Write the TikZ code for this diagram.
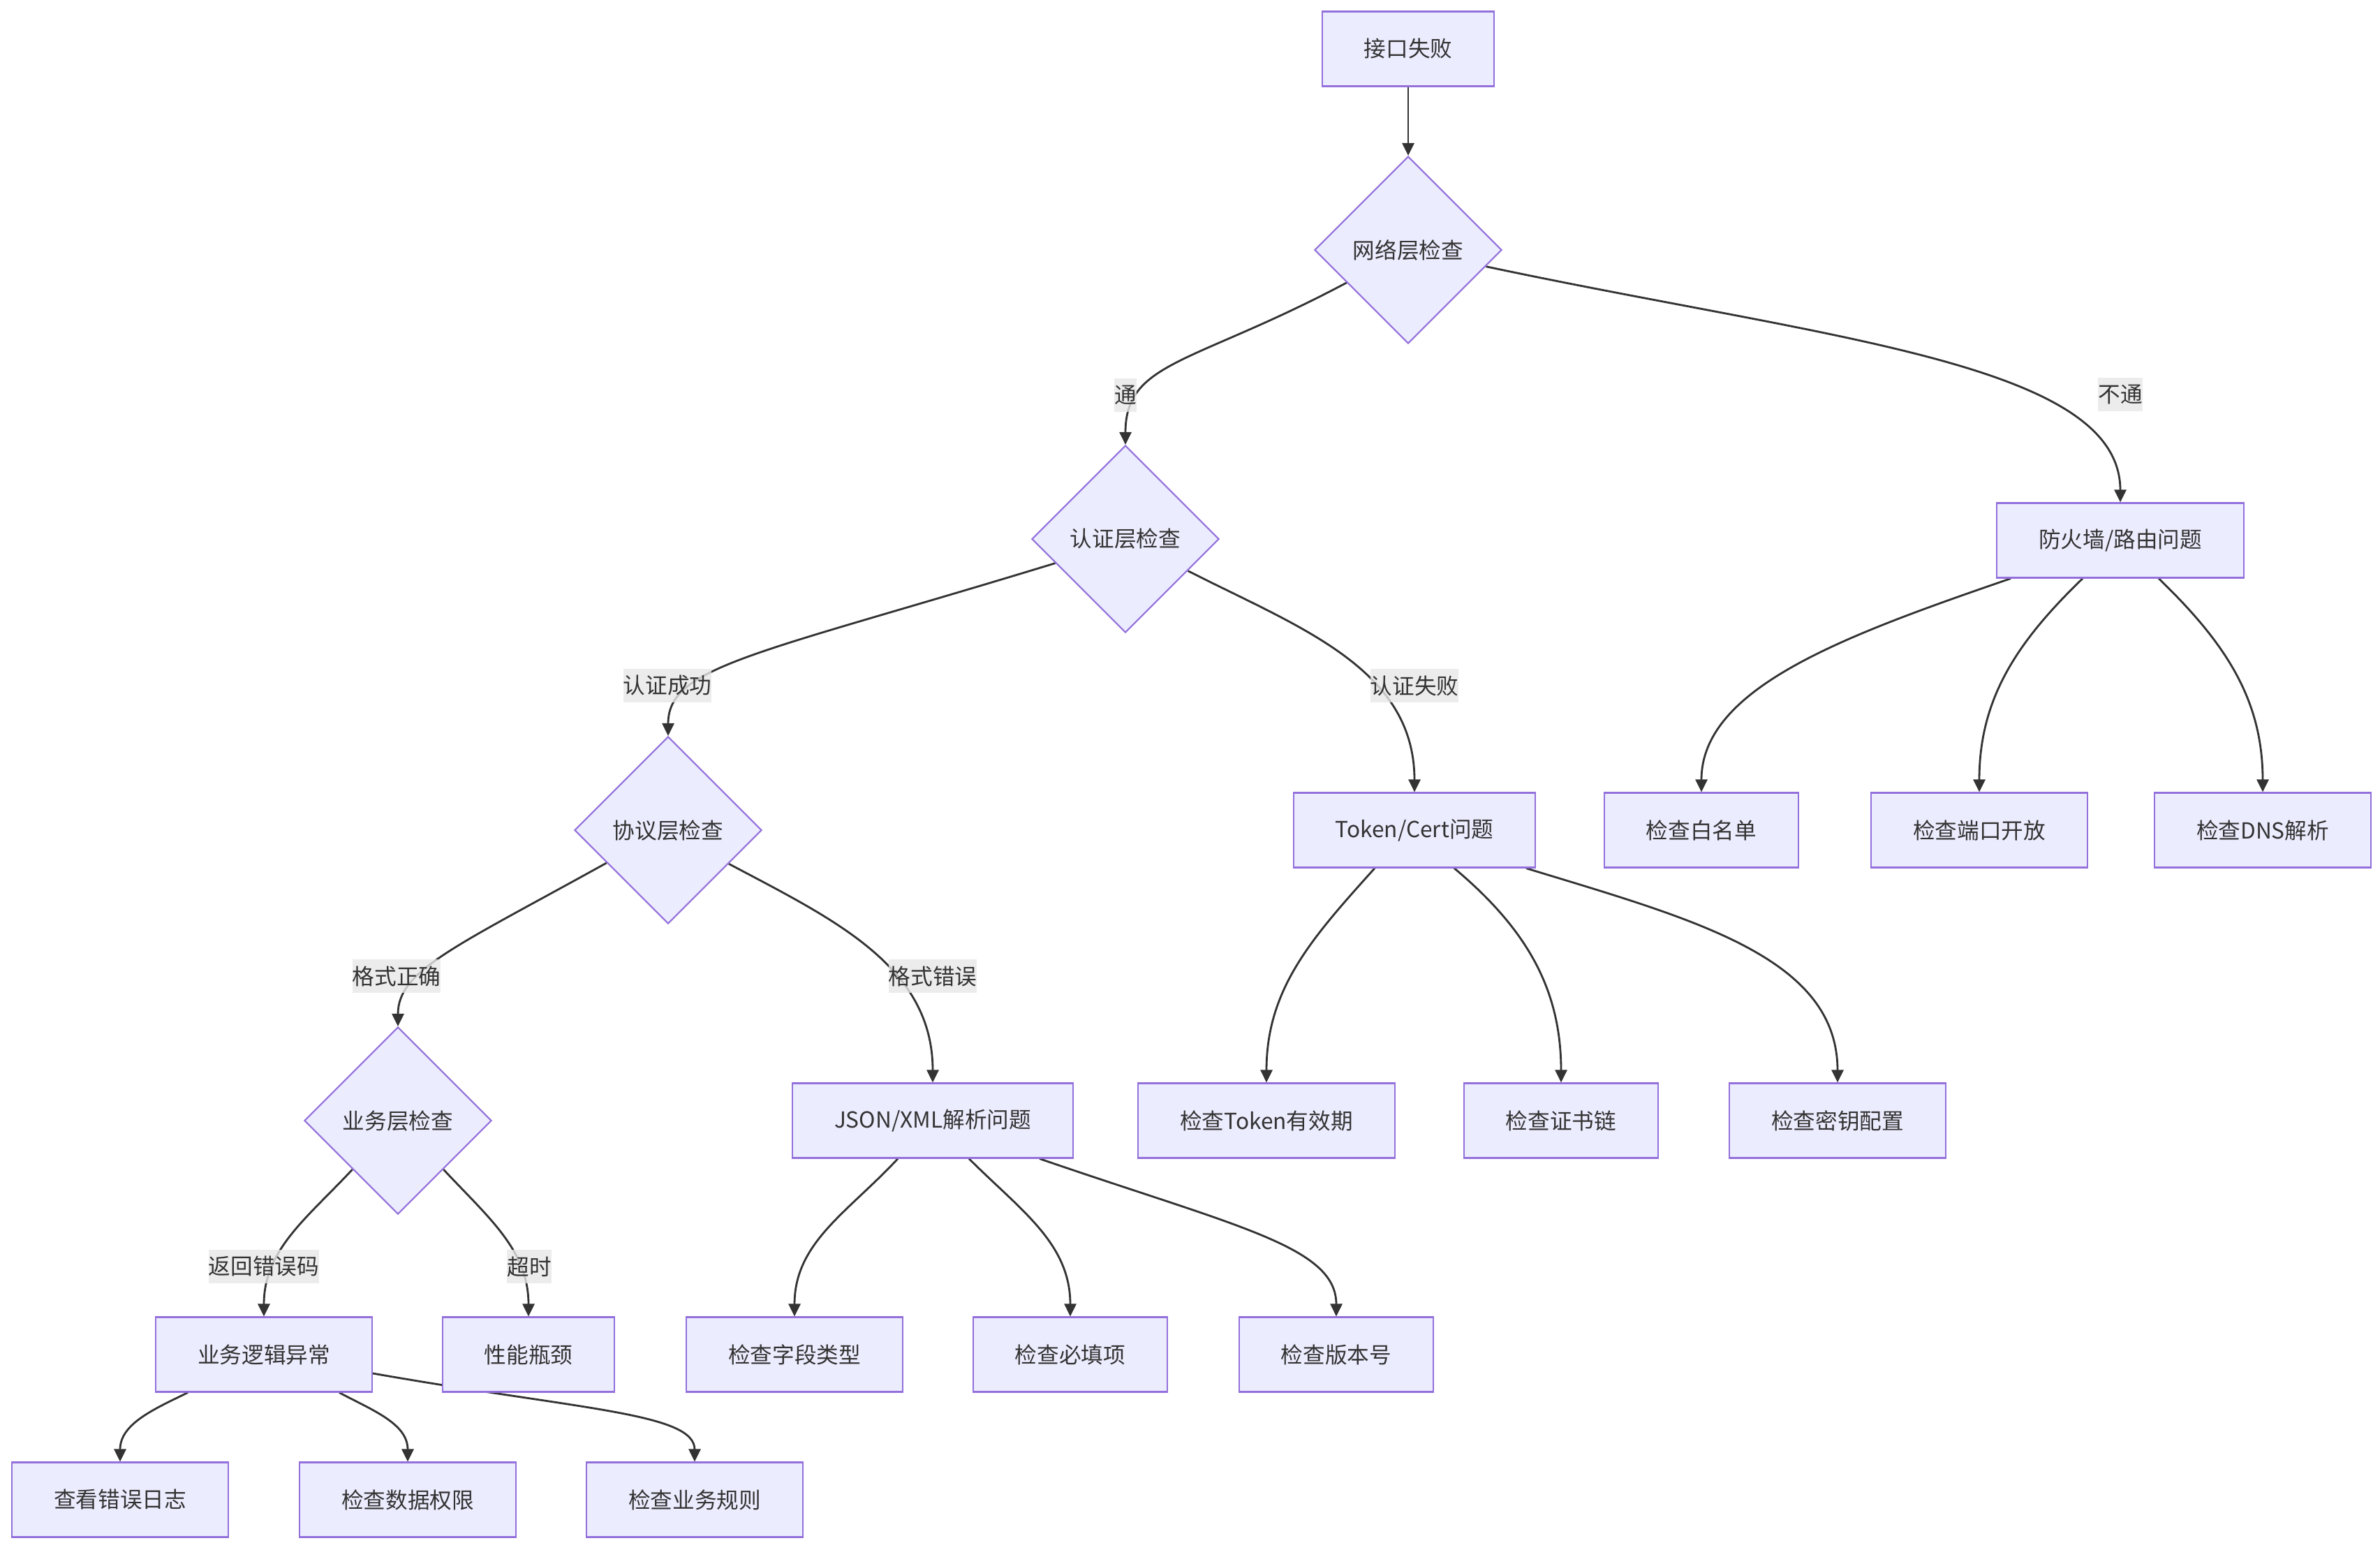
\documentclass[tikz,border=0pt]{standalone}
\usepackage{fontspec}
\setmainfont{Noto Sans CJK SC}
\usepackage{tikz}
\usetikzlibrary{shapes.geometric, arrows.meta, backgrounds}
\definecolor{nodefill}{HTML}{ECECFF}
\definecolor{nodeline}{HTML}{9370DB}
\definecolor{nodetext}{HTML}{333333}
\definecolor{edgeline}{HTML}{333333}
\definecolor{tagfill}{HTML}{E8E8E8}

\begin{document}
\begin{tikzpicture}[
    taskbox/.style={rectangle, draw=nodeline, fill=nodefill, line width=0.6pt, minimum height=10.7mm, inner xsep=6mm, text=nodetext, font=\fontsize{9}{11}\selectfont},
    layercheck/.style={diamond, aspect=1, draw=nodeline, fill=nodefill, line width=0.6pt, minimum width=26.8mm, minimum height=26.8mm, inner sep=0pt, text=nodetext, font=\fontsize{9}{11}\selectfont},
    edgetag/.style={fill=tagfill, fill opacity=0.8, text opacity=1, text=nodetext, inner xsep=0pt, inner ysep=0pt, minimum height=4.8mm, font=\fontsize{9}{11}\selectfont},
    flow/.style={draw=edgeline, line width=0.8pt, -{Triangle[length=1.8mm, width=1.7mm]}}
]
\useasboundingbox (0,0) rectangle (34.09,-22.20);

\node[taskbox] (fail) at (20.17,-0.70) {接口失败};
\node[layercheck] (net) at (20.17,-3.58) {网络层检查};
\node[layercheck] (auth) at (16.12,-7.72) {认证层检查};
\node[taskbox] (fw) at (30.37,-7.74) {防火墙/路由问题};
\node[layercheck] (proto) at (9.57,-11.89) {协议层检查};
\node[taskbox] (cred) at (20.26,-11.89) {Token/Cert问题};
\node[taskbox] (white) at (24.37,-11.89) {检查白名单};
\node[taskbox] (port) at (28.35,-11.89) {检查端口开放};
\node[taskbox] (dns) at (32.41,-11.89) {检查DNS解析};
\node[layercheck] (biz) at (5.70,-16.05) {业务层检查};
\node[taskbox] (parse) at (13.36,-16.05) {JSON/XML解析问题};
\node[taskbox] (expiry) at (18.14,-16.05) {检查Token有效期};
\node[taskbox] (chain) at (22.36,-16.05) {检查证书链};
\node[taskbox] (keys) at (26.32,-16.05) {检查密钥配置};
\node[taskbox] (logic) at (3.78,-19.40) {业务逻辑异常};
\node[taskbox] (perf) at (7.57,-19.40) {性能瓶颈};
\node[taskbox] (ftype) at (11.38,-19.40) {检查字段类型};
\node[taskbox] (must) at (15.33,-19.40) {检查必填项};
\node[taskbox] (ver) at (19.14,-19.40) {检查版本号};
\node[taskbox] (log) at (1.72,-21.48) {查看错误日志};
\node[taskbox] (perm) at (5.84,-21.48) {检查数据权限};
\node[taskbox] (rule) at (9.95,-21.48) {检查业务规则};

\node[edgetag] (tong) at (16.12,-5.66) {通};
\node[edgetag] (butong) at (30.37,-5.65) {不通};
\node[edgetag] (authok) at (9.56,-9.82) {认证成功};
\node[edgetag] (authbad) at (20.26,-9.82) {认证失败};
\node[edgetag] (fmtok) at (5.68,-13.98) {格式正确};
\node[edgetag] (fmtbad) at (13.36,-13.98) {格式错误};
\node[edgetag] (errcode) at (3.78,-18.14) {返回错误码};
\node[edgetag] (timeout) at (7.58,-18.14) {超时};

\begin{scope}[on background layer]
\fill[white] (0,0) rectangle (34.09,-22.20);
\draw[flow] (fail) -- (net);
\draw[flow] (net.208) .. controls +(208:2.5) and +(0,1.2) .. (auth.north);
\draw[flow] (net.-12) .. controls +(-12:5) and +(0,2) .. (fw.north);
\draw[flow] (auth.199) .. controls +(197:4.5) and +(0,1) .. (proto.north);
\draw[flow] (auth.-27) to[out=-27, in=90] (cred.north);
\draw[flow] ([xshift=-15.7mm]fw.south) .. controls +(199:2.5) and +(0,1.5) .. (white.north);
\draw[flow] ([xshift=-5.4mm]fw.south) to[out=224, in=90] (port.north);
\draw[flow] ([xshift=5.5mm]fw.south) to[out=-44, in=90] (dns.north);
\draw[flow] (proto.208) .. controls +(209:2.5) and +(0,0.8) .. (biz.north);
\draw[flow] (proto.-29) to[out=-28, in=90] (parse.north);
\draw[flow] ([xshift=-5.7mm]cred.south) to[out=228, in=90] (expiry.north);
\draw[flow] ([xshift=5.7mm]cred.south) to[out=-40, in=90] (chain.north);
\draw[flow] ([xshift=16mm]cred.south) .. controls +(-17:2.5) and +(0,1.8) .. (keys.north);
\draw[flow] (biz.227) to[out=227, in=90] (logic.north);
\draw[flow] (biz.-47) to[out=-47, in=90] (perf.north);
\draw[flow] ([xshift=-5mm]parse.south) to[out=227, in=90] (ftype.north);
\draw[flow] ([xshift=5.2mm]parse.south) to[out=-45, in=90] (must.north);
\draw[flow] ([xshift=15.3mm]parse.south) .. controls +(-19:3) and +(0,1) .. (ver.north);
\draw[flow] ([xshift=-10.9mm]logic.south) to[out=206, in=90] (log.north);
\draw[flow] ([xshift=10.8mm]logic.south) to[out=-28, in=90] (perm.north);
\draw[flow] ([yshift=-2.7mm]logic.east) .. controls +(-10:3) and +(0,0.7) .. (rule.north);
\end{scope}
\end{tikzpicture}
\end{document}
